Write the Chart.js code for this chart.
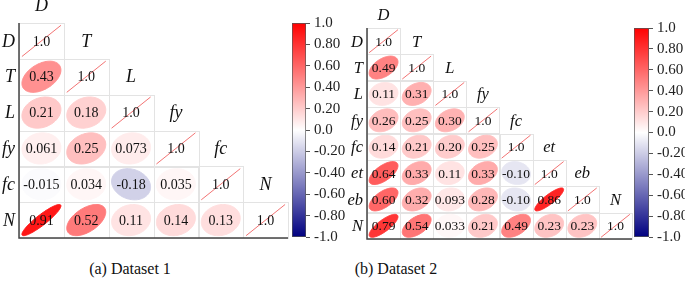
<!DOCTYPE html>
<html>
<head>
<meta charset="utf-8">
<script src="https://cdn.jsdelivr.net/npm/chart.js@4.4.1/dist/chart.umd.min.js"></script>
<style>
html, body { margin: 0; padding: 0; background: #fff; width: 685px; height: 284px; overflow: hidden; position: relative; }
canvas { position: absolute; }
.cap { position: absolute; top: 260px; width: 200px; text-align: center; font-family: 'Liberation Serif', 'Times New Roman', serif; font-size: 16px; color: #111; }
</style>
</head>
<body>
<canvas id="matA" width="290" height="250" style="left:0;top:0"></canvas>
<canvas id="barA" width="62" height="250" style="left:285px;top:0"></canvas>
<canvas id="matB" width="290" height="250" style="left:345px;top:0"></canvas>
<canvas id="barB" width="63" height="250" style="left:627px;top:0"></canvas>
<div class="cap" style="left:30px">(a) Dataset 1</div>
<div class="cap" style="left:296px">(b) Dataset 2</div>
<script>
// variables and lower triangle of each correlation matrix
const varsA = ['D', 'T', 'L', 'fy', 'fc', 'N'];
const corrA = [
    [1.0],
    [0.43, 1.0],
    [0.21, 0.18, 1.0],
    [0.061, 0.25, 0.073, 1.0],
    [-0.015, 0.034, -0.18, 0.035, 1.0],
    [0.91, 0.52, 0.11, 0.14, 0.13, 1.0]
];

const varsB = ['D', 'T', 'L', 'fy', 'fc', 'et', 'eb', 'N'];
const corrB = [
    [1.0],
    [0.49, 1.0],
    [0.11, 0.31, 1.0],
    [0.26, 0.25, 0.30, 1.0],
    [0.14, 0.21, 0.20, 0.25, 1.0],
    [0.64, 0.33, 0.11, 0.33, -0.10, 1.0],
    [0.60, 0.32, 0.093, 0.28, -0.10, 0.86, 1.0],
    [0.79, 0.54, 0.033, 0.21, 0.49, 0.23, 0.23, 1.0]
];

const cbTicks = [1.0, 0.8, 0.6, 0.4, 0.2, 0.0, -0.2, -0.4, -0.6, -0.8, -1.0];
const cbLabels = ['1.0', '0.80', '0.60', '0.40', '0.20', '0.0', '-0.20', '-0.40', '-0.60', '-0.80', '-1.0'];

const SERIF = "'Liberation Serif', 'Times New Roman', serif";

function corrColor(r) {
    if (r >= 0) {
        const c = Math.round(255 * (1 - r));
        return `rgb(255,${c},${c})`;
    }
    const t = -r;
    const c = Math.round(255 * (1 - t));
    return `rgb(${c},${c},${Math.round(255 - 127 * t)})`;
}

function cellPoints(corr) {
    const pts = [];
    corr.forEach((row, i) => {
        row.forEach((v, j) => pts.push({ x: j, y: i, v: v }));
    });
    return pts;
}

const ellipsePlugin = {
    id: 'corrEllipses',
    afterDatasetsDraw(chart, args, opts) {
        const { ctx, chartArea: ca } = chart;
        const xs = chart.scales.x, ys = chart.scales.y;
        const vars = chart.data.labels;
        const pts = chart.data.datasets[0].data;
        const cw = Math.abs(xs.getPixelForValue(1) - xs.getPixelForValue(0));
        const ch = Math.abs(ys.getPixelForValue(1) - ys.getPixelForValue(0));
        const hw = cw / 2 * opts.k, hh = ch / 2 * opts.k;

        ctx.save();
        // light cell borders
        ctx.strokeStyle = '#e3e3e3';
        ctx.lineWidth = 1;
        pts.forEach(p => {
            const cx = xs.getPixelForValue(p.x), cy = ys.getPixelForValue(p.y);
            ctx.strokeRect(Math.round(cx - cw / 2) + 0.5, Math.round(cy - ch / 2) + 0.5, Math.round(cw), Math.round(ch));
        });

        ctx.textAlign = 'center';
        ctx.textBaseline = 'middle';
        pts.forEach(p => {
            const cx = xs.getPixelForValue(p.x), cy = ys.getPixelForValue(p.y);
            if (p.x === p.y) {
                ctx.strokeStyle = 'rgba(240,90,90,0.85)';
                ctx.lineWidth = 1;
                ctx.beginPath();
                ctx.moveTo(cx - hw, cy + hh);
                ctx.lineTo(cx + hw, cy - hh);
                ctx.stroke();
            } else {
                const a = Math.sqrt(1 + p.v), b = Math.sqrt(1 - p.v);
                ctx.beginPath();
                for (let s = 0; s <= 90; s++) {
                    const t = s / 90 * 2 * Math.PI;
                    const u = (a * Math.cos(t) - b * Math.sin(t)) / Math.SQRT2;
                    const w = (a * Math.cos(t) + b * Math.sin(t)) / Math.SQRT2;
                    if (s === 0) ctx.moveTo(cx + u * hw, cy - w * hh);
                    else ctx.lineTo(cx + u * hw, cy - w * hh);
                }
                ctx.closePath();
                ctx.fillStyle = corrColor(p.v);
                ctx.fill();
                ctx.strokeStyle = corrColor(p.v);
                ctx.lineWidth = 1;
                ctx.stroke();
            }
            ctx.fillStyle = '#111';
            ctx.font = `${opts.fontSize}px ${SERIF}`;
            ctx.fillText(p.x === p.y ? '1.0' : p.v.toPrecision(2), cx, cy + 1);
        });

        // row labels on the left, column labels above the diagonal
        ctx.font = `italic ${opts.labelSize}px ${SERIF}`;
        ctx.fillStyle = '#111';
        vars.forEach((name, i) => {
            ctx.textAlign = 'right';
            ctx.fillText(name, ca.left - 4, ys.getPixelForValue(i) + 1);
            ctx.textAlign = 'center';
            ctx.fillText(name, xs.getPixelForValue(i), ys.getPixelForValue(i - 1) + 1);
        });

        // left and bottom axis lines
        ctx.strokeStyle = '#444';
        ctx.lineWidth = 1.5;
        ctx.beginPath();
        ctx.moveTo(ca.left, ca.top);
        ctx.lineTo(ca.left, ca.bottom);
        ctx.lineTo(ca.right, ca.bottom);
        ctx.stroke();
        ctx.restore();
    }
};

function makeMatrix(id, vars, corr, pad, style) {
    const n = vars.length;
    return new Chart(document.getElementById(id), {
        type: 'scatter',
        data: {
            labels: vars,
            datasets: [{ data: cellPoints(corr), pointRadius: 0, pointHoverRadius: 0 }]
        },
        options: {
            responsive: false,
            animation: false,
            devicePixelRatio: 1,
            layout: { padding: pad },
            scales: {
                x: { type: 'linear', min: -0.5, max: n - 0.5, display: false },
                y: { type: 'linear', min: -0.5, max: n - 0.5, reverse: true, display: false }
            },
            plugins: {
                legend: { display: false },
                tooltip: { enabled: false },
                corrEllipses: style
            }
        },
        plugins: [ellipsePlugin]
    });
}

function makeColorbar(id, padTop, padBottom) {
    return new Chart(document.getElementById(id), {
        type: 'bar',
        data: {
            labels: [''],
            datasets: [{
                data: [[-1, 1]],
                backgroundColor: (c) => {
                    const ys = c.chart.scales.y;
                    if (!ys || !c.chart.chartArea) return 'white';
                    const g = c.chart.ctx.createLinearGradient(0, ys.getPixelForValue(1), 0, ys.getPixelForValue(-1));
                    g.addColorStop(0, corrColor(1));
                    g.addColorStop(0.5, corrColor(0));
                    g.addColorStop(1, corrColor(-1));
                    return g;
                },
                borderColor: '#555',
                borderWidth: 1,
                borderSkipped: false,
                barPercentage: 1,
                categoryPercentage: 1
            }]
        },
        options: {
            responsive: false,
            animation: false,
            devicePixelRatio: 1,
            layout: { padding: { left: 7, right: 0, top: padTop, bottom: padBottom } },
            plugins: { legend: { display: false }, tooltip: { enabled: false } },
            scales: {
                x: { display: false },
                y: {
                    position: 'right',
                    min: -1,
                    max: 1,
                    afterBuildTicks: (s) => { s.ticks = cbTicks.map(v => ({ value: v })); },
                    afterFit: (s) => { s.width = 41; },
                    ticks: {
                        autoSkip: false,
                        padding: 4,
                        color: '#222',
                        font: { family: SERIF, size: 15 },
                        callback: (v, i) => cbLabels[i]
                    },
                    grid: { drawOnChartArea: false, tickLength: 4, color: '#555' },
                    border: { display: false }
                }
            }
        }
    });
}

makeMatrix('matA', varsA, corrA, { left: 19, right: 2, top: 23, bottom: 12 }, { k: 0.87, fontSize: 14, labelSize: 18 });
makeMatrix('matB', varsB, corrB, { left: 22, right: 3, top: 28, bottom: 11 }, { k: 0.87, fontSize: 13.5, labelSize: 16.5 });
makeColorbar('barA', 23, 12);
makeColorbar('barB', 28, 12);
</script>
</body>
</html>
